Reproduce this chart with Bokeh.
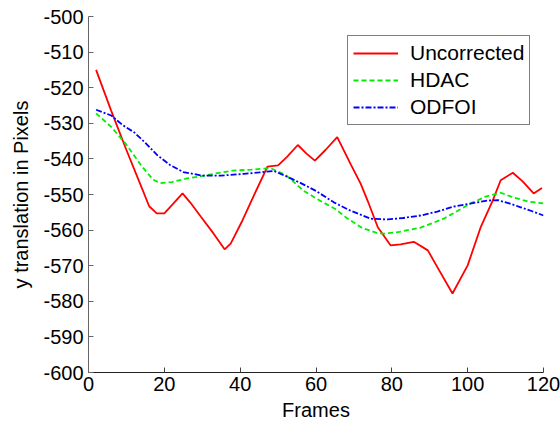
from bokeh.plotting import figure
from bokeh.models import Range1d, FixedTicker, Legend, LegendItem
from bokeh.embed import file_html
from bokeh.resources import INLINE

# Uncorrected
x_unc = [2, 6, 10, 14, 16, 18, 20, 22, 24.8, 26.8, 29.6, 33, 35.9, 37.5, 40.6, 43.6, 47.2, 50,
         52.3, 55.2, 57.5, 59.7, 62.5, 65.6, 69.1, 71.8, 73.6, 76.3, 79.7, 82.3, 85.8, 89.5, 92,
         96, 100, 103.5, 106.6, 108.7, 111.9, 114.5, 117.4, 119.6]
y_unc = [-515, -526.5, -537.5, -548, -553.3, -555.3, -555.3, -553, -549.7, -552.2, -556.2, -561,
         -565.4, -563.8, -557.3, -550.3, -542.2, -541.8, -539.5, -536.1, -538.5, -540.5, -537.5,
         -533.9, -541.4, -547, -551.7, -559.2, -564.3, -564, -563.3, -565.7, -570.4, -577.8,
         -569.9, -559, -551.7, -546, -543.9, -546.3, -549.7, -548.2]

# HDAC
x_hdac = [2, 6, 10, 14, 17, 19, 22, 26, 30, 34, 38, 43, 48, 52, 56.8, 61, 65, 68, 72, 76, 78,
          82, 87.6, 93.7, 100.8, 105, 108.7, 112, 116, 118.5, 120]
y_hdac = [-527.2, -531, -536, -542, -545.8, -546.8, -546.5, -545.5, -544.8, -544, -543.3, -543,
          -542.6, -544.5, -549, -551.7, -554, -556.5, -559.3, -560.8, -561, -560.5, -559.3,
          -556.8, -552.5, -550.5, -549.5, -550.8, -552, -552.3, -552.5]

# ODFOI
x_odf = [2, 6, 9, 12, 15, 18.2, 21.5, 25, 30, 35, 41, 45, 48.9, 52, 56, 60, 64.7, 69, 74.4, 78.9,
         83, 87.6, 92, 96.3, 101, 105.3, 108, 111, 114, 117, 120]
y_odf = [-526.2, -527.8, -530.5, -532.5, -535.5, -539, -541.7, -543.7, -544.7, -544.7, -544.2,
         -543.8, -543.4, -544.8, -546.8, -549, -552.2, -554.5, -556.8, -557, -556.6, -555.9,
         -554.8, -553.4, -552.5, -551.7, -551.6, -552.5, -553.6, -554.7, -555.9]

x_ticks = [0, 20, 40, 60, 80, 100, 120]
y_ticks = list(range(-600, -499, 10))
y_tick_labels = {t: str(t) for t in y_ticks}

FONT = "Liberation Sans"

p = figure(width=560, height=423, output_backend="svg", toolbar_location=None,
           x_range=Range1d(0, 120), y_range=Range1d(-600, -500))
p.min_border_left = 88
p.min_border_right = 17
p.min_border_top = 16
p.min_border_bottom = 51
p.outline_line_color = None
p.grid.visible = False
p.background_fill_color = "white"
p.border_fill_color = "white"

for ax in (p.xaxis[0], p.yaxis[0]):
    ax.major_label_text_font = FONT
    ax.major_label_text_font_size = "20px"
    ax.major_label_text_color = "black"
    ax.axis_label_text_font = FONT
    ax.axis_label_text_font_size = "20px"
    ax.axis_label_text_font_style = "normal"
    ax.axis_label_text_color = "black"
    ax.major_tick_in = 5
    ax.major_tick_out = 0
    ax.minor_tick_in = 0
    ax.minor_tick_out = 0

p.xaxis[0].ticker = FixedTicker(ticks=x_ticks)
p.yaxis[0].ticker = FixedTicker(ticks=y_ticks)
p.yaxis[0].major_label_overrides = y_tick_labels
p.xaxis[0].axis_label = "Frames"
p.yaxis[0].axis_label = "y translation in Pixels"
p.xaxis[0].axis_line_color = "#222222"
p.xaxis[0].major_tick_line_color = "#444444"
p.yaxis[0].axis_line_color = "#666666"
p.yaxis[0].major_tick_line_color = "#666666"
p.xaxis[0].major_label_standoff = 4
p.xaxis[0].axis_label_standoff = 5
p.yaxis[0].major_label_standoff = 5
p.yaxis[0].axis_label_standoff = 8

r_unc = p.line(x_unc, y_unc, line_color="#ff0000", line_width=1.8)
r_hdac = p.line(x_hdac, y_hdac, line_color="#00ee00", line_width=1.8, line_dash="5 3")
r_odf = p.line(x_odf, y_odf, line_color="#0000ff", line_width=1.8, line_dash="6 2 2 2")

legend = Legend(items=[LegendItem(label="Uncorrected", renderers=[r_unc]),
                       LegendItem(label="HDAC", renderers=[r_hdac]),
                       LegendItem(label="ODFOI", renderers=[r_odf])],
                location=(259, 247))
legend.label_text_font = FONT
legend.label_text_font_size = "21px"
legend.label_text_color = "black"
legend.glyph_width = 45
legend.glyph_height = 24
legend.label_height = 24
legend.label_standoff = 12
legend.padding = 5
legend.spacing = 3
legend.margin = 0
legend.border_line_color = "black"
legend.border_line_width = 1
legend.background_fill_color = "white"
legend.background_fill_alpha = 1
p.add_layout(legend, "center")

open("out.html", "w").write(file_html(p, INLINE))
